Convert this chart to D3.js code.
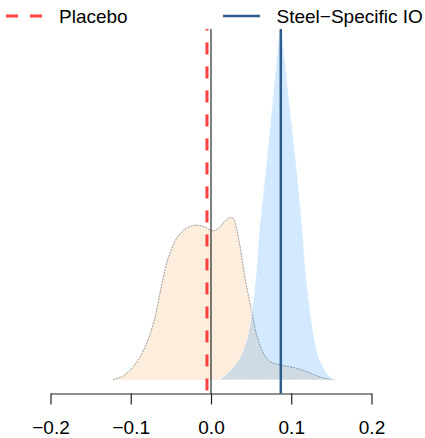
<!DOCTYPE html>
<html>
<head>
<meta charset="utf-8">
<script src="https://cdn.jsdelivr.net/npm/d3@7"></script>
<style>
  body { margin: 0; background: #fff; }
  svg { display: block; font-family: "Liberation Sans", Arial, sans-serif; }
</style>
</head>
<body>
<svg id="chart" width="425" height="438"></svg>
<script>
// density of the placebo draws (value, density)
const placeboX = [-0.1221, -0.1097, -0.0972, -0.0885, -0.0801, -0.0735, -0.0677, -0.0636, -0.0594, -0.0552,
  -0.0511, -0.0427, -0.0365, -0.0303, -0.0240, -0.0178, -0.0116, -0.0054, -0.0012, 0.0029,
  0.0075, 0.0112, 0.0162, 0.0216, 0.0249, 0.0278, 0.0320, 0.0361, 0.0424, 0.0486,
  0.0569, 0.0652, 0.0735, 0.0860, 0.1068, 0.1234, 0.1396, 0.1558];
const placeboY = [0.03, 0.22, 0.71, 1.25, 2.01, 2.83, 3.81, 4.73, 5.60, 6.37,
  6.91, 7.73, 8.05, 8.27, 8.38, 8.43, 8.38, 8.27, 8.16, 8.12,
  8.19, 8.32, 8.60, 8.80, 8.84, 8.79, 8.22, 7.29, 5.55, 4.19,
  2.45, 1.47, 1.01, 0.82, 0.64, 0.38, 0.11, 0];

// density of the steel-specific IO draws
const steelX = [0.0112, 0.0153, 0.0278, 0.0402, 0.0465, 0.0527, 0.0569, 0.0598, 0.0640,
  0.0695, 0.0736, 0.0777, 0.0819, 0.0869, 0.0918, 0.0963, 0.1009, 0.1055, 0.1097,
  0.1143, 0.1175, 0.1218, 0.1275, 0.1317, 0.1399, 0.1483, 0.1545];
const steelY = [0, 0.16, 0.71, 1.63, 2.56, 4.35, 6.15, 7.94, 9.74,
  12.0, 13.8, 15.67, 17.52, 19.1, 17.52, 15.67, 13.82, 12.0, 10.17,
  7.94, 6.15, 4.35, 2.56, 1.63, 0.71, 0.16, 0];

const placeboMean = -0.005;
const steelMean = 0.087;
const xTicks = [-0.2, -0.1, 0, 0.1, 0.2];
const tickLabels = ["\u22120.2", "\u22120.1", "0.0", "0.1", "0.2"];
const legendLabels = ["Placebo", "Steel\u2212Specific IO"];

const svg = d3.select("#chart");

const x = d3.scaleLinear().domain([-0.2, 0.2]).range([50.5, 371.5]);
const y = d3.scaleLinear().domain([0, 19.1]).range([380, 29]);
const yBottom = 393.5, yTop = 29;

const placebo = placeboX.map((v, i) => [v, placeboY[i]]);
const steel = steelX.map((v, i) => [v, steelY[i]]);

const area = d3.area()
  .x(d => x(d[0]))
  .y0(y(0))
  .y1(d => y(d[1]))
  .curve(d3.curveMonotoneX);
const line = d3.line()
  .x(d => x(d[0]))
  .y(d => y(d[1]))
  .curve(d3.curveMonotoneX);

// placebo density
svg.append("path")
  .attr("d", area(placebo))
  .attr("fill", "#fdeddc");
svg.append("path")
  .attr("d", line(placebo))
  .attr("fill", "none")
  .attr("stroke", "#9a9a9a")
  .attr("stroke-width", 1)
  .attr("stroke-dasharray", "2,1");

// steel IO density on top
svg.append("path")
  .attr("d", area(steel))
  .attr("fill", "rgba(30,144,255,0.2)")
  .attr("stroke", "rgba(255,255,255,0.6)")
  .attr("stroke-width", 1);

// zero line
svg.append("line")
  .attr("x1", x(0)).attr("x2", x(0))
  .attr("y1", yBottom).attr("y2", yTop)
  .attr("stroke", "#000").attr("stroke-width", 1);

// mean lines
svg.append("line")
  .attr("x1", x(placeboMean)).attr("x2", x(placeboMean))
  .attr("y1", yBottom).attr("y2", yTop)
  .attr("stroke", "#ff4040").attr("stroke-width", 3)
  .attr("stroke-dasharray", "12,12")
  .attr("stroke-dashoffset", 21);
svg.append("line")
  .attr("x1", x(steelMean)).attr("x2", x(steelMean))
  .attr("y1", yBottom).attr("y2", yTop)
  .attr("stroke", "#2c5d8c").attr("stroke-width", 2.5);

// x axis
const axis = svg.append("g")
  .attr("transform", `translate(0,${yBottom})`)
  .call(d3.axisBottom(x)
    .tickValues(xTicks)
    .tickFormat((d, i) => tickLabels[i])
    .tickSize(11)
    .tickSizeOuter(0)
    .tickPadding(16.5));
axis.select(".domain").attr("stroke", "#222").attr("stroke-width", 1.2);
axis.selectAll(".tick line").attr("stroke", "#222").attr("stroke-width", 1.2);
axis.selectAll(".tick text")
  .attr("font-size", 19)
  .attr("font-family", "Liberation Sans, Arial, sans-serif")
  .attr("fill", "#000");

// legend
const leg = svg.append("g");
leg.append("line")
  .attr("x1", 6).attr("x2", 43).attr("y1", 16).attr("y2", 16)
  .attr("stroke", "#ff4040").attr("stroke-width", 3)
  .attr("stroke-dasharray", "12,12");
leg.append("text")
  .attr("x", 59).attr("y", 23)
  .attr("font-size", 19)
  .text(legendLabels[0]);
leg.append("line")
  .attr("x1", 223).attr("x2", 260).attr("y1", 16).attr("y2", 16)
  .attr("stroke", "#2c5d8c").attr("stroke-width", 2.5);
leg.append("text")
  .attr("x", 276.5).attr("y", 23)
  .attr("font-size", 19)
  .text(legendLabels[1]);
</script>
</body>
</html>
